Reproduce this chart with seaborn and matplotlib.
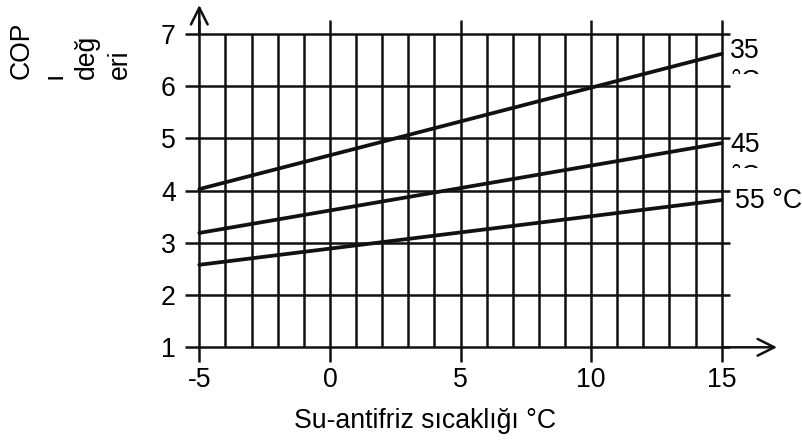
import matplotlib
matplotlib.use("Agg")
import matplotlib.pyplot as plt
import seaborn as sns
import pandas as pd
from matplotlib.transforms import Bbox, TransformedBbox

# ---- data ----
temps = [-5, 15]
cop_35 = [4.03, 6.62]
cop_45 = [3.19, 4.91]
cop_55 = [2.58, 3.82]
series_names = ["35", "45", "55 °C"]
x_ticks = [-5, 0, 5, 10, 15]
y_ticks = [1, 2, 3, 4, 5, 6, 7]
x_label = "Su-antifriz sıcaklığı °C"
y_label = "COP\nı\ndeğ\neri"

df = pd.DataFrame({
    "temp": temps * 3,
    "cop": cop_35 + cop_45 + cop_55,
    "curve": [series_names[0]] * 2 + [series_names[1]] * 2 + [series_names[2]] * 2,
})

sns.set_theme(style="white")
plt.rcParams["font.family"] = ["Liberation Sans", "DejaVu Sans"]
FS = 19.2
INK = "#111111"

fig = plt.figure(figsize=(8.03, 4.41), dpi=100)
ax = fig.add_axes([199.3 / 803, 93.7 / 441, 522.4 / 803, 313.3 / 441])
ax.set_xlim(-5, 15)
ax.set_ylim(1, 7)
for s in ax.spines.values():
    s.set_visible(False)

GLW = 1.8
# grid: minor verticals
minor = [v for v in range(-5, 16) if v not in x_ticks]
ax.vlines(minor, 1, 7, color=INK, lw=GLW, clip_on=False, zorder=1)
# major verticals extending beyond
ax.vlines(x_ticks, 0.72, 7.27, color=INK, lw=GLW, clip_on=False, zorder=1)
# horizontals
ax.hlines(y_ticks, -5.54, 15.31, color=INK, lw=GLW, clip_on=False, zorder=1)

# axis arrows
arrow_style = "->,head_length=0.6,head_width=0.3"
ax.annotate("", xy=(17.12, 1), xytext=(15.0, 1), xycoords="data",
            arrowprops=dict(arrowstyle=arrow_style, mutation_scale=20,
                            color=INK, lw=GLW, shrinkA=0, shrinkB=0),
            annotation_clip=False)
ax.annotate("", xy=(-5, 7.556), xytext=(-5, 7.0), xycoords="data",
            arrowprops=dict(arrowstyle=arrow_style, mutation_scale=20,
                            color=INK, lw=GLW, shrinkA=0, shrinkB=0),
            annotation_clip=False)

# data lines
sns.lineplot(data=df, x="temp", y="cop", hue="curve",
             palette=[INK, INK, INK], linewidth=2.7, legend=False, ax=ax,
             zorder=3, clip_on=False)

# ticks
ax.set_xticks(x_ticks)
ax.set_xticklabels([str(v) for v in x_ticks], fontsize=FS, color="black")
ax.set_yticks(y_ticks)
ax.set_yticklabels([str(v) for v in y_ticks], fontsize=FS, color="black")
ax.tick_params(axis="x", length=0, pad=14)
ax.tick_params(axis="y", length=0, pad=17)
ax.set_xlabel("")
ax.set_ylabel("")

# x label
fig.text(425 / 803, 1 - 428 / 441, x_label, ha="center", va="baseline",
         fontsize=FS, color="black")
# y label (rotated, wrapped)
fig.text(9 / 803, 1 - 79 / 441, y_label, rotation=90, ha="left", va="bottom",
         multialignment="left", linespacing=1.33, fontsize=FS, color="black")

# curve labels
ax.text(15.32, 6.54, series_names[0], ha="left", va="baseline", fontsize=FS,
        color="black", clip_on=False)
ax.text(15.32, 4.74, series_names[1], ha="left", va="baseline", fontsize=FS,
        color="black", clip_on=False)
ax.text(15.51, 3.667, series_names[2], ha="left", va="baseline", fontsize=FS,
        color="black", clip_on=False)

# clipped "°C" second lines (only the top is visible)
t1 = ax.text(15.32, 5.94, "°C", ha="left", va="baseline", fontsize=FS, color="black")
t1.set_clip_box(TransformedBbox(Bbox([[15.0, 6.234], [18.0, 8.0]]), ax.transData))
t1.set_clip_on(True)
t2 = ax.text(15.32, 4.135, "°C", ha="left", va="baseline", fontsize=FS, color="black")
t2.set_clip_box(TransformedBbox(Bbox([[15.0, 4.433], [18.0, 4.6]]), ax.transData))
t2.set_clip_on(True)

fig.savefig("out.png", dpi=100)
